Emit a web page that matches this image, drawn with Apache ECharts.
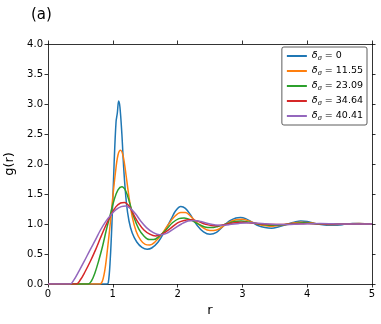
<!DOCTYPE html>
<html>
<head>
<meta charset="utf-8">
<script src="https://cdn.jsdelivr.net/npm/echarts@6/dist/echarts.min.js"></script>
<style>
  html, body { margin: 0; padding: 0; background: #fff; }
  #chart { width: 381px; height: 324px; }
</style>
</head>
<body>
<div id="chart"></div>
<script>
// sigma values shown in the legend
const deltas = ['0', '11.55', '23.09', '34.64', '40.41']
const colors = ['#1f77b4', '#ff7f0e', '#2ca02c', '#d62728', '#9467bd']

// g(r) curves, [r, g] pairs
const g0 = [[0,0],[0.9,0],[0.93,0.02],[0.96,0.4],[0.99,1.1],[1.02,2.0],[1.05,2.7],[1.07,2.85],[1.09,3.05],[1.11,2.95],[1.14,2.5],[1.17,1.9],[1.21,1.35],[1.25,1.05],[1.3,0.85],[1.37,0.7],[1.45,0.61],[1.53,0.58],[1.6,0.6],[1.7,0.7],[1.8,0.88],[1.9,1.08],[1.97,1.22],[2.05,1.29],[2.12,1.26],[2.2,1.15],[2.3,0.98],[2.4,0.87],[2.5,0.83],[2.6,0.86],[2.7,0.96],[2.8,1.05],[2.9,1.1],[2.97,1.11],[3.05,1.09],[3.15,1.03],[3.25,0.97],[3.35,0.94],[3.45,0.93],[3.55,0.95],[3.7,1.0],[3.8,1.03],[3.9,1.05],[4.0,1.04],[4.15,1.0],[4.3,0.98],[4.4,0.98],[4.55,0.99],[4.7,1.01],[4.8,1.01],[5,1.0]]
const g1 = [[0,0],[0.8,0],[0.84,0.05],[0.88,0.25],[0.92,0.6],[0.96,1.0],[1.0,1.45],[1.04,1.85],[1.08,2.15],[1.12,2.23],[1.16,2.13],[1.2,1.85],[1.25,1.45],[1.3,1.12],[1.36,0.88],[1.43,0.73],[1.5,0.66],[1.57,0.65],[1.65,0.7],[1.75,0.82],[1.85,0.98],[1.95,1.12],[2.05,1.19],[2.12,1.19],[2.2,1.13],[2.3,1.02],[2.4,0.93],[2.5,0.89],[2.6,0.9],[2.7,0.96],[2.8,1.03],[2.9,1.07],[3.0,1.08],[3.1,1.05],[3.2,1.01],[3.3,0.98],[3.45,0.96],[3.6,0.98],[3.75,1.01],[3.9,1.03],[4.05,1.02],[4.2,1.0],[4.4,0.99],[4.6,1.0],[4.8,1.01],[5,1.0]]
const g2 = [[0,0],[0.62,0],[0.67,0.05],[0.72,0.17],[0.78,0.38],[0.84,0.62],[0.9,0.9],[0.96,1.15],[1.02,1.4],[1.08,1.57],[1.14,1.62],[1.2,1.55],[1.26,1.35],[1.33,1.1],[1.4,0.92],[1.48,0.8],[1.56,0.74],[1.63,0.74],[1.72,0.8],[1.82,0.9],[1.92,1.02],[2.02,1.09],[2.1,1.1],[2.2,1.07],[2.3,1.01],[2.42,0.95],[2.52,0.94],[2.62,0.96],[2.75,1.0],[2.88,1.04],[2.98,1.05],[3.1,1.03],[3.25,1.0],[3.4,0.98],[3.55,0.98],[3.75,1.0],[3.95,1.02],[4.2,1.0],[4.5,1.0],[5,1.0]]
const g3 = [[0,0],[0.44,0],[0.5,0.07],[0.57,0.2],[0.65,0.37],[0.73,0.56],[0.81,0.77],[0.89,0.97],[0.97,1.15],[1.05,1.29],[1.12,1.35],[1.18,1.36],[1.25,1.3],[1.32,1.16],[1.4,1.01],[1.48,0.9],[1.57,0.83],[1.66,0.8],[1.76,0.83],[1.88,0.92],[2.0,1.02],[2.1,1.06],[2.18,1.07],[2.3,1.05],[2.42,1.0],[2.55,0.97],[2.68,0.98],[2.82,1.01],[2.97,1.03],[3.1,1.02],[3.3,1.0],[3.5,0.99],[3.8,1.0],[4.0,1.01],[4.4,1.0],[5,1.0]]
const g4 = [[0,0],[0.34,0],[0.4,0.07],[0.48,0.22],[0.56,0.38],[0.65,0.57],[0.73,0.73],[0.81,0.9],[0.89,1.04],[0.97,1.15],[1.05,1.24],[1.13,1.29],[1.2,1.3],[1.27,1.26],[1.35,1.17],[1.43,1.05],[1.52,0.94],[1.62,0.86],[1.72,0.82],[1.82,0.84],[1.94,0.92],[2.06,1.0],[2.16,1.05],[2.25,1.06],[2.36,1.04],[2.5,1.0],[2.65,0.98],[2.8,0.99],[2.95,1.01],[3.1,1.02],[3.3,1.01],[3.6,0.99],[3.9,1.0],[4.2,1.01],[4.6,1.0],[5,1.0]]
const curves = [g0, g1, g2, g3, g4]

const font = 'DejaVu Sans'
const tick = { show: true, inside: false, length: 3.5, lineStyle: { color: '#000', width: 0.8 } }
const spine = { show: true, onZero: false, lineStyle: { color: '#000', width: 0.8 } }

const chart = echarts.init(document.getElementById('chart'))
chart.setOption({
  animation: false,
  textStyle: { fontFamily: font },
  title: {
    text: '(a)', left: 26, top: 3,
    textStyle: { fontFamily: font, fontSize: 15, fontWeight: 'normal', color: '#000' }
  },
  grid: { left: 48, right: 9, top: 44, bottom: 40, outerBoundsMode: 'none', containLabel: false },
  legend: {
    orient: 'vertical', right: 14, top: 47,
    padding: [4, 4, 3, 5], itemGap: 4,
    itemWidth: 20, itemHeight: 2, icon: 'rect',
    borderColor: '#333', borderWidth: 0.8, borderRadius: 2,
    data: deltas.map(d => 'δσ = ' + d),
    formatter: name => '{d|δ}{s|σ}{t| = ' + name.split(' = ')[1] + '}',
    textStyle: {
      fontFamily: font, color: '#000', fontSize: 9,
      rich: {
        d: { fontFamily: font, fontStyle: 'italic', fontSize: 9.5 },
        s: { fontFamily: font, fontStyle: 'italic', fontSize: 6.5, verticalAlign: 'bottom', padding: [5, 0, 0, 0] },
        t: { fontFamily: font, fontSize: 9.5 }
      }
    }
  },
  xAxis: [{
    type: 'value', min: 0, max: 5, interval: 1,
    name: 'r', nameLocation: 'middle', nameGap: 20,
    nameTextStyle: { fontFamily: font, fontSize: 13, color: '#000' },
    axisLine: spine, axisTick: tick, splitLine: { show: false },
    axisLabel: { color: '#000', fontSize: 10, fontFamily: font, margin: 5 }
  }, {
    type: 'value', min: 0, max: 5, interval: 1, position: 'top',
    axisLine: spine, axisTick: tick, splitLine: { show: false }, axisLabel: { show: false }
  }],
  yAxis: [{
    type: 'value', min: 0, max: 4, interval: 0.5,
    name: 'g(r)', nameLocation: 'middle', nameGap: 25,
    nameTextStyle: { fontFamily: font, fontSize: 13, color: '#000' },
    axisLine: spine, axisTick: tick, splitLine: { show: false },
    axisLabel: { color: '#000', fontSize: 10, fontFamily: font, margin: 5, formatter: v => v.toFixed(1) }
  }, {
    type: 'value', min: 0, max: 4, interval: 0.5, position: 'right',
    axisLine: spine, axisTick: tick, splitLine: { show: false }, axisLabel: { show: false }
  }],
  series: curves.map((c, i) => ({
    name: 'δσ = ' + deltas[i],
    type: 'line', data: c, smooth: 0.35, showSymbol: false,
    color: colors[i], lineStyle: { width: 1.5, color: colors[i] }
  }))
})
</script>
</body>
</html>
